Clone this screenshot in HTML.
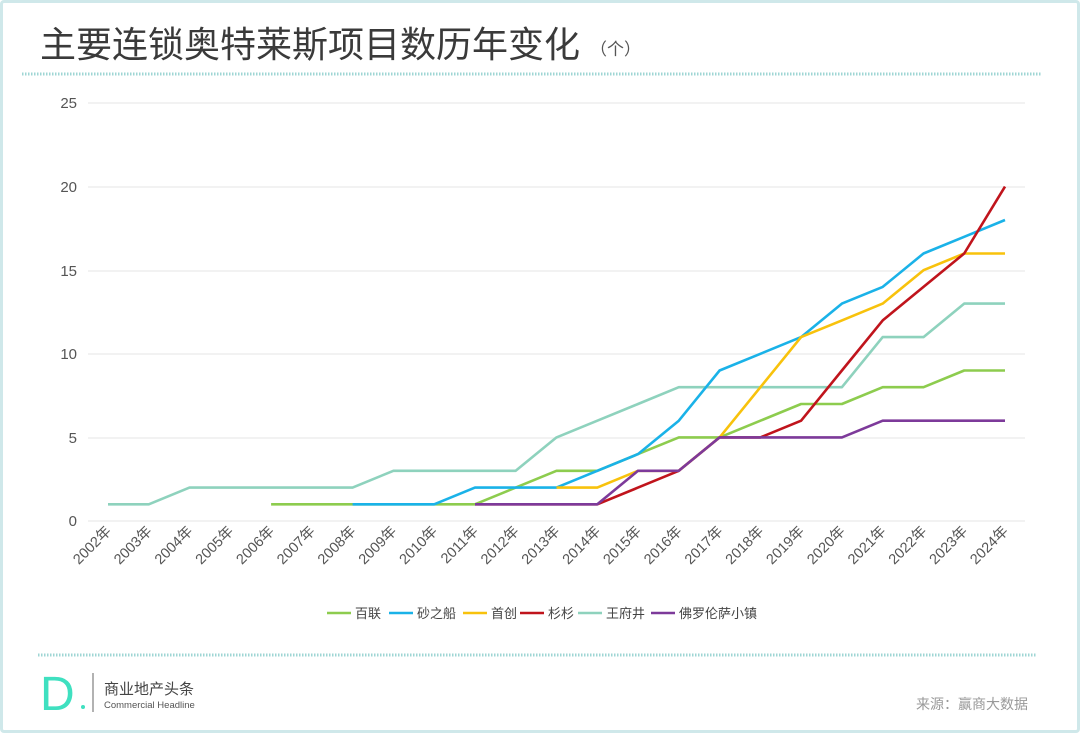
<!DOCTYPE html>
<html><head><meta charset="utf-8"><style>
body{margin:0;width:1080px;height:733px;overflow:hidden;background:#fff;font-family:"Liberation Sans","Noto Sans CJK SC",sans-serif}
#f{position:absolute;left:0;top:0;width:1074px;height:727px;border:3px solid #cfe8ea;border-radius:4px}
</style></head><body><div id="f"></div>
<svg width="1080" height="733" style="position:absolute;left:0;top:0" font-family="Liberation Sans, Noto Sans CJK SC, sans-serif">
<text x="40" y="57" font-size="36" fill="#3a3a3a">主要连锁奥特莱斯项目数历年变化</text>
<text x="590" y="55" font-size="17" fill="#555">（个）</text>
<line x1="22" y1="74" x2="1042" y2="74" stroke="#9fd6d4" stroke-width="3" stroke-dasharray="1.5,1.5"/>
<line x1="38" y1="655" x2="1036" y2="655" stroke="#9fd6d4" stroke-width="3" stroke-dasharray="1.5,1.5"/>
<g stroke="#eeeeee" stroke-width="1.5">
<line x1="88" x2="1025" y1="103" y2="103"/><line x1="88" x2="1025" y1="187" y2="187"/><line x1="88" x2="1025" y1="271" y2="271"/><line x1="88" x2="1025" y1="354" y2="354"/><line x1="88" x2="1025" y1="438" y2="438"/><line x1="88" x2="1025" y1="521" y2="521"/>
</g>
<g font-size="15" fill="#555" text-anchor="end">
<text x="77" y="108">25</text><text x="77" y="192">20</text><text x="77" y="276">15</text><text x="77" y="359">10</text><text x="77" y="443">5</text><text x="77" y="526">0</text>
</g>
<g id="xl" font-size="14.5" fill="#555" text-anchor="end"></g>
<g id="ln" fill="none" stroke-width="2.6" stroke-linejoin="round"></g>
<g font-size="13" fill="#444">
<line x1="327" x2="351" y1="613" y2="613" stroke="#8dcc4e" stroke-width="2.6"/><text x="355" y="618">百联</text>
<line x1="389" x2="413" y1="613" y2="613" stroke="#1ab2e8" stroke-width="2.6"/><text x="417" y="618">砂之船</text>
<line x1="463" x2="487" y1="613" y2="613" stroke="#f8c20c" stroke-width="2.6"/><text x="491" y="618">首创</text>
<line x1="520" x2="544" y1="613" y2="613" stroke="#c0141c" stroke-width="2.6"/><text x="548" y="618">杉杉</text>
<line x1="578" x2="602" y1="613" y2="613" stroke="#8ed2bd" stroke-width="2.6"/><text x="606" y="618">王府井</text>
<line x1="651" x2="675" y1="613" y2="613" stroke="#7d3a9a" stroke-width="2.6"/><text x="679" y="618">佛罗伦萨小镇</text>
</g>
<text x="40" y="710" font-size="48" fill="#3fe0c0" font-family="Liberation Sans Narrow, Liberation Sans, sans-serif">D</text>
<circle cx="83" cy="707" r="2" fill="#3fe0c0"/>
<line x1="93" y1="673" x2="93" y2="712" stroke="#666" stroke-width="1"/>
<text x="104" y="694" font-size="15" fill="#444">商业地产头条</text>
<text x="104" y="708" font-size="9.5" fill="#555">Commercial Headline</text>
<text x="1028" y="709" font-size="14" fill="#999" text-anchor="end">来源：赢商大数据</text>
</svg>
<script>
var x0=108,dx=(1005-108)/22,y0=521,dy=16.72,ns="http://www.w3.org/2000/svg";
var xl=document.getElementById('xl');
for(var i=0;i<23;i++){var t=document.createElementNS(ns,'text');var x=x0+i*dx+4,y=532;t.setAttribute('x',x);t.setAttribute('y',y);t.setAttribute('transform','rotate(-45 '+x+' '+y+')');t.textContent=(2002+i)+'年';xl.appendChild(t);}
var S=[["#8ed2bd",0,[1,1,2,2,2,2,2,3,3,3,3,5,6,7,8,8,8,8,8,11,11,13,13]],
["#8dcc4e",4,[1,1,1,1,1,1,2,3,3,4,5,5,6,7,7,8,8,9,9]],
["#1ab2e8",6,[1,1,1,2,2,2,3,4,6,9,10,11,13,14,16,17,18]],
["#f8c20c",11,[2,2,3,3,5,8,11,12,13,15,16,16]],
["#c0141c",9,[1,1,1,1,2,3,5,5,6,9,12,14,16,20]],
["#7d3a9a",9,[1,1,1,1,3,3,5,5,5,5,6,6,6,6]]];
var g=document.getElementById('ln');
S.forEach(function(s){var p=document.createElementNS(ns,'polyline');p.setAttribute('stroke',s[0]);p.setAttribute('points',s[2].map(function(v,j){return (x0+(s[1]+j)*dx).toFixed(1)+','+(y0-v*dy).toFixed(1)}).join(' '));g.appendChild(p);});
</script>
</body></html>
